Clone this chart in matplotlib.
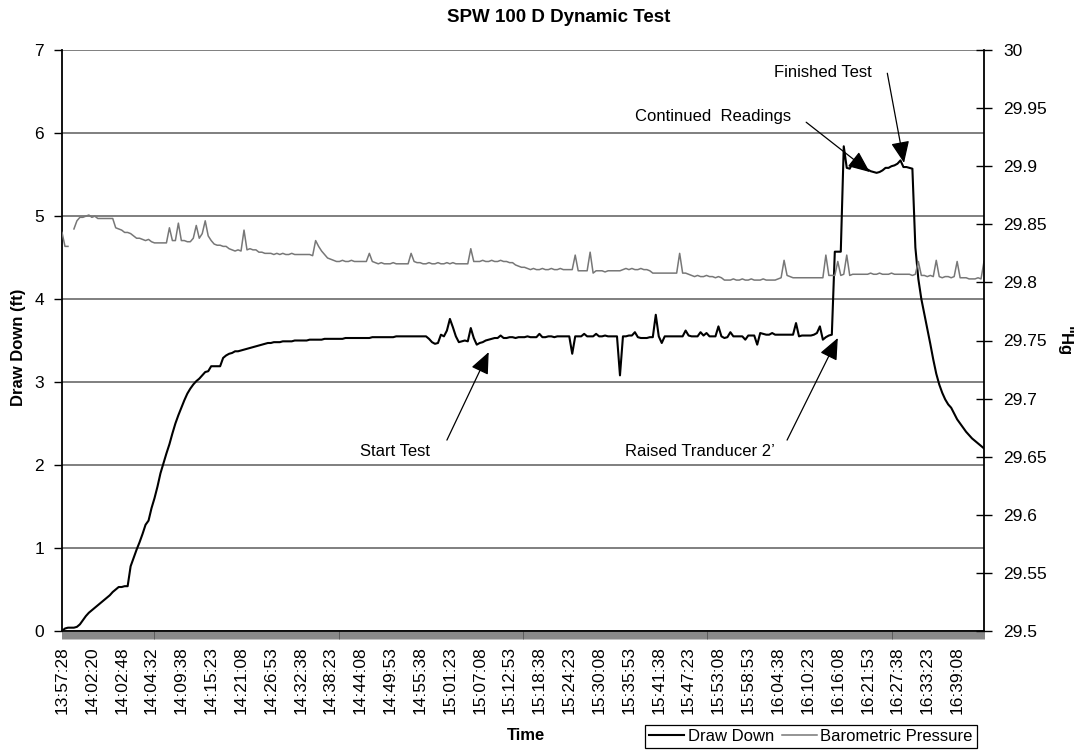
import numpy as np
import matplotlib
matplotlib.use("Agg")
import matplotlib.pyplot as plt
from matplotlib.ticker import MultipleLocator

plt.rcParams['font.family'] = ['Liberation Sans', 'DejaVu Sans']

nan = np.nan

time_labels = ["13:57:28", "14:02:20", "14:02:48", "14:04:32", "14:09:38", "14:15:23",
               "14:21:08", "14:26:53", "14:32:38", "14:38:23", "14:44:08", "14:49:53",
               "14:55:38", "15:01:23", "15:07:08", "15:12:53", "15:18:38", "15:24:23",
               "15:30:08", "15:35:53", "15:41:38", "15:47:23", "15:53:08", "15:58:53",
               "16:04:38", "16:10:23", "16:16:08", "16:21:53", "16:27:38", "16:33:23",
               "16:39:08"]

# draw down (ft), one row per labelled interval
draw_down = [
    0.00, 0.03, 0.04, 0.04, 0.04, 0.05, 0.08, 0.13, 0.18, 0.22,
    0.25, 0.28, 0.31, 0.34, 0.37, 0.40, 0.43, 0.47, 0.50, 0.53,
    0.53, 0.54, 0.54, 0.78, 0.88, 0.98, 1.07, 1.17, 1.28, 1.33,
    1.48, 1.60, 1.74, 1.90, 2.02, 2.14, 2.25, 2.38, 2.50, 2.60,
    2.69, 2.78, 2.86, 2.92, 2.97, 3.01, 3.04, 3.08, 3.12, 3.13,
    3.19, 3.19, 3.19, 3.19, 3.29, 3.32, 3.34, 3.35, 3.37, 3.37,
    3.38, 3.39, 3.40, 3.41, 3.42, 3.43, 3.44, 3.45, 3.46, 3.47,
    3.47, 3.48, 3.48, 3.48, 3.49, 3.49, 3.49, 3.49, 3.50, 3.50,
    3.50, 3.50, 3.50, 3.51, 3.51, 3.51, 3.51, 3.51, 3.52, 3.52,
    3.52, 3.52, 3.52, 3.52, 3.52, 3.53, 3.53, 3.53, 3.53, 3.53,
    3.53, 3.53, 3.53, 3.53, 3.54, 3.54, 3.54, 3.54, 3.54, 3.54,
    3.54, 3.54, 3.55, 3.55, 3.55, 3.55, 3.55, 3.55, 3.55, 3.55,
    3.55, 3.55, 3.55, 3.52, 3.48, 3.46, 3.47, 3.57, 3.55, 3.62,
    3.76, 3.66, 3.55, 3.48, 3.49, 3.50, 3.49, 3.65, 3.53, 3.45,
    3.47, 3.48, 3.50, 3.51, 3.52, 3.53, 3.53, 3.56, 3.53, 3.53,
    3.54, 3.54, 3.53, 3.54, 3.54, 3.54, 3.55, 3.54, 3.54, 3.54,
    3.58, 3.54, 3.54, 3.55, 3.55, 3.54, 3.55, 3.55, 3.55, 3.55,
    3.55, 3.34, 3.55, 3.55, 3.55, 3.58, 3.55, 3.55, 3.55, 3.58,
    3.55, 3.55, 3.56, 3.55, 3.55, 3.55, 3.55, 3.08, 3.55, 3.55,
    3.56, 3.56, 3.60, 3.54, 3.53, 3.53, 3.53, 3.54, 3.54, 3.81,
    3.55, 3.47, 3.55, 3.55, 3.55, 3.55, 3.55, 3.55, 3.55, 3.62,
    3.56, 3.55, 3.55, 3.55, 3.60, 3.56, 3.59, 3.55, 3.55, 3.55,
    3.67, 3.55, 3.53, 3.54, 3.60, 3.55, 3.55, 3.55, 3.55, 3.51,
    3.56, 3.56, 3.56, 3.45, 3.59, 3.58, 3.57, 3.57, 3.59, 3.57,
    3.57, 3.57, 3.57, 3.57, 3.57, 3.57, 3.71, 3.55, 3.56, 3.56,
    3.56, 3.56, 3.57, 3.59, 3.67, 3.51, 3.54, 3.56, 3.57, 4.57,
    4.57, 4.57, 5.84, 5.58, 5.57, 5.64, 5.60, 5.59, 5.58, 5.57,
    5.56, 5.54, 5.53, 5.52, 5.53, 5.55, 5.58, 5.58, 5.60, 5.61,
    5.63, 5.67, 5.59, 5.59, 5.58, 5.57, 4.62, 4.24, 4.00, 3.82,
    3.64, 3.46, 3.27, 3.10, 2.97, 2.87, 2.79, 2.73, 2.69, 2.62,
    2.55, 2.50, 2.45, 2.40, 2.36, 2.32, 2.29, 2.26, 2.23, 2.20,
]

# barometric pressure ("Hg)
baro = [
    29.843, 29.831, 29.831, nan, 29.846, 29.853, 29.856, 29.856, 29.857, 29.858,
    29.856, 29.857, 29.855, 29.855, 29.855, 29.855, 29.855, 29.855, 29.847, 29.846,
    29.845, 29.843, 29.843, 29.842, 29.840, 29.838, 29.838, 29.837, 29.836, 29.837,
    29.835, 29.834, 29.834, 29.834, 29.834, 29.834, 29.847, 29.836, 29.836, 29.851,
    29.836, 29.836, 29.835, 29.835, 29.838, 29.849, 29.838, 29.842, 29.853, 29.840,
    29.836, 29.833, 29.832, 29.832, 29.831, 29.831, 29.829, 29.828, 29.827, 29.828,
    29.827, 29.845, 29.828, 29.829, 29.828, 29.828, 29.826, 29.826, 29.825, 29.825,
    29.825, 29.824, 29.825, 29.824, 29.825, 29.824, 29.824, 29.825, 29.824, 29.824,
    29.824, 29.824, 29.824, 29.824, 29.823, 29.836, 29.831, 29.827, 29.824, 29.821,
    29.820, 29.819, 29.818, 29.818, 29.819, 29.818, 29.818, 29.819, 29.818, 29.818,
    29.818, 29.818, 29.818, 29.825, 29.818, 29.817, 29.816, 29.817, 29.816, 29.816,
    29.816, 29.817, 29.816, 29.816, 29.816, 29.816, 29.816, 29.825, 29.818, 29.817,
    29.817, 29.816, 29.816, 29.817, 29.816, 29.816, 29.817, 29.816, 29.816, 29.817,
    29.816, 29.817, 29.816, 29.816, 29.816, 29.816, 29.816, 29.829, 29.818, 29.818,
    29.818, 29.819, 29.818, 29.818, 29.819, 29.818, 29.818, 29.819, 29.818, 29.818,
    29.817, 29.817, 29.815, 29.814, 29.813, 29.813, 29.812, 29.811, 29.812, 29.811,
    29.811, 29.812, 29.811, 29.811, 29.812, 29.811, 29.811, 29.812, 29.811, 29.811,
    29.811, 29.811, 29.8235, 29.810, 29.810, 29.810, 29.810, 29.826, 29.808, 29.810,
    29.810, 29.810, 29.809, 29.810, 29.810, 29.810, 29.810, 29.810, 29.811, 29.812,
    29.811, 29.812, 29.811, 29.811, 29.812, 29.811, 29.811, 29.810, 29.808, 29.808,
    29.808, 29.808, 29.808, 29.808, 29.808, 29.808, 29.808, 29.825, 29.808, 29.808,
    29.807, 29.806, 29.805, 29.806, 29.805, 29.805, 29.806, 29.805, 29.805, 29.804,
    29.805, 29.804, 29.802, 29.802, 29.802, 29.803, 29.802, 29.802, 29.803, 29.802,
    29.802, 29.803, 29.802, 29.802, 29.802, 29.803, 29.802, 29.802, 29.802, 29.802,
    29.803, 29.804, 29.819, 29.806, 29.805, 29.804, 29.804, 29.804, 29.804, 29.804,
    29.804, 29.804, 29.804, 29.804, 29.804, 29.804, 29.8235, 29.806, 29.806, 29.806,
    29.818, 29.806, 29.807, 29.8235, 29.806, 29.807, 29.807, 29.807, 29.807, 29.807,
    29.807, 29.808, 29.807, 29.807, 29.808, 29.807, 29.807, 29.807, 29.808, 29.807,
    29.807, 29.807, 29.807, 29.807, 29.807, 29.806, 29.807, 29.818, 29.806, 29.806,
    29.805, 29.806, 29.805, 29.819, 29.805, 29.804, 29.805, 29.805, 29.804, 29.805,
    29.818, 29.804, 29.804, 29.804, 29.803, 29.803, 29.803, 29.804, 29.803, 29.818,
]

x = np.arange(len(draw_down))

fig = plt.figure(figsize=(10.78, 7.5), dpi=100)
ax = fig.add_axes([62/1078, 1-631/750, (984-62)/1078, (631-50)/750])
ax2 = ax.twinx()

ax.plot(x, draw_down, color='black', lw=1.5, label='Draw Down', zorder=3)
ax2.plot(x, baro, color='#777777', lw=1.1, label='Barometric Pressure', zorder=2)

ax.set_xlim(0, len(draw_down) - 1)
ax.set_ylim(0, 7)
ax2.set_ylim(29.5, 30)
ax.set_yticks(range(0, 8))
ax2.set_yticks([29.5, 29.55, 29.6, 29.65, 29.7, 29.75, 29.8, 29.85, 29.9, 29.95, 30])
ax2.set_yticklabels(['29.5', '29.55', '29.6', '29.65', '29.7', '29.75', '29.8',
                     '29.85', '29.9', '29.95', '30'])

ax.set_xticks(np.arange(0, len(time_labels) * 10, 10))
ax.set_xticklabels(time_labels, rotation=90)
ax.xaxis.set_minor_locator(MultipleLocator(1/3))

ax.grid(axis='y', color='#6a6a6a', lw=1.2)
ax.set_axisbelow(True)

for a in (ax, ax2):
    a.spines['top'].set_visible(False)
ax.spines['right'].set_visible(False)
ax2.spines['left'].set_visible(False)
ax2.spines['bottom'].set_visible(False)
ax.spines['left'].set_linewidth(1.3)
ax.spines['bottom'].set_linewidth(1.3)
ax2.spines['right'].set_linewidth(1.3)

ax.tick_params(axis='y', length=6, width=1, pad=7, labelsize=12.5)
ax.tick_params(axis='x', which='both', length=6, width=0.45, color='#444444',
               pad=5, labelsize=12.5)
ax2.tick_params(axis='y', direction='inout', length=12, width=1, pad=8, labelsize=12.5)

fig.text(19/1078, 1-347/750, 'Draw Down (ft)', rotation=90, fontsize=12,
         fontweight='bold', ha='center', va='center')
fig.text(1064/1078, 1-341/750, '"Hg', rotation=270, fontsize=12,
         fontweight='bold', ha='center', va='center')
fig.text(526/1078, 1-736/750, 'Time', fontsize=12, fontweight='bold',
         ha='center', va='center')
fig.text(559/1078, 1-18/750, 'SPW 100 D Dynamic Test', fontsize=13.5,
         fontweight='bold', ha='center', va='center')

arrow = dict(arrowstyle='-|>,head_length=0.7,head_width=0.3', color='black', lw=0.9,
             mutation_scale=19, shrinkA=0, shrinkB=0)
notes = [
    ('Start Test', (111.7, 2.16), (129, 2.30), (143, 3.36)),
    ('Raised Tranducer 2\u2019', (213.9, 2.16), (243, 2.30), (260, 3.53)),
    ('Continued  Readings', (218.2, 6.20), (249.4, 6.13), (270.7, 5.53)),
    ('Finished Test', (255.1, 6.73), (276.6, 6.72), (282.2, 5.64)),
]
for txt, pos, tail, tip in notes:
    ax.text(pos[0], pos[1], txt, fontsize=12, ha='center', va='center', zorder=5)
    ax.annotate('', xy=tip, xytext=tail, arrowprops=arrow, zorder=5)

h1, l1 = ax.get_legend_handles_labels()
h2, l2 = ax2.get_legend_handles_labels()
leg = fig.legend(h1 + h2, l1 + l2, loc='lower left', bbox_to_anchor=(645/1078, 2/750),
                 ncol=2, fontsize=12, frameon=True, fancybox=False, edgecolor='black',
                 framealpha=1, borderpad=0.25, handlelength=2.1, handletextpad=0.2,
                 columnspacing=0.5, borderaxespad=0)
leg.get_frame().set_linewidth(0.9)

fig.savefig('out.png', dpi=100)
